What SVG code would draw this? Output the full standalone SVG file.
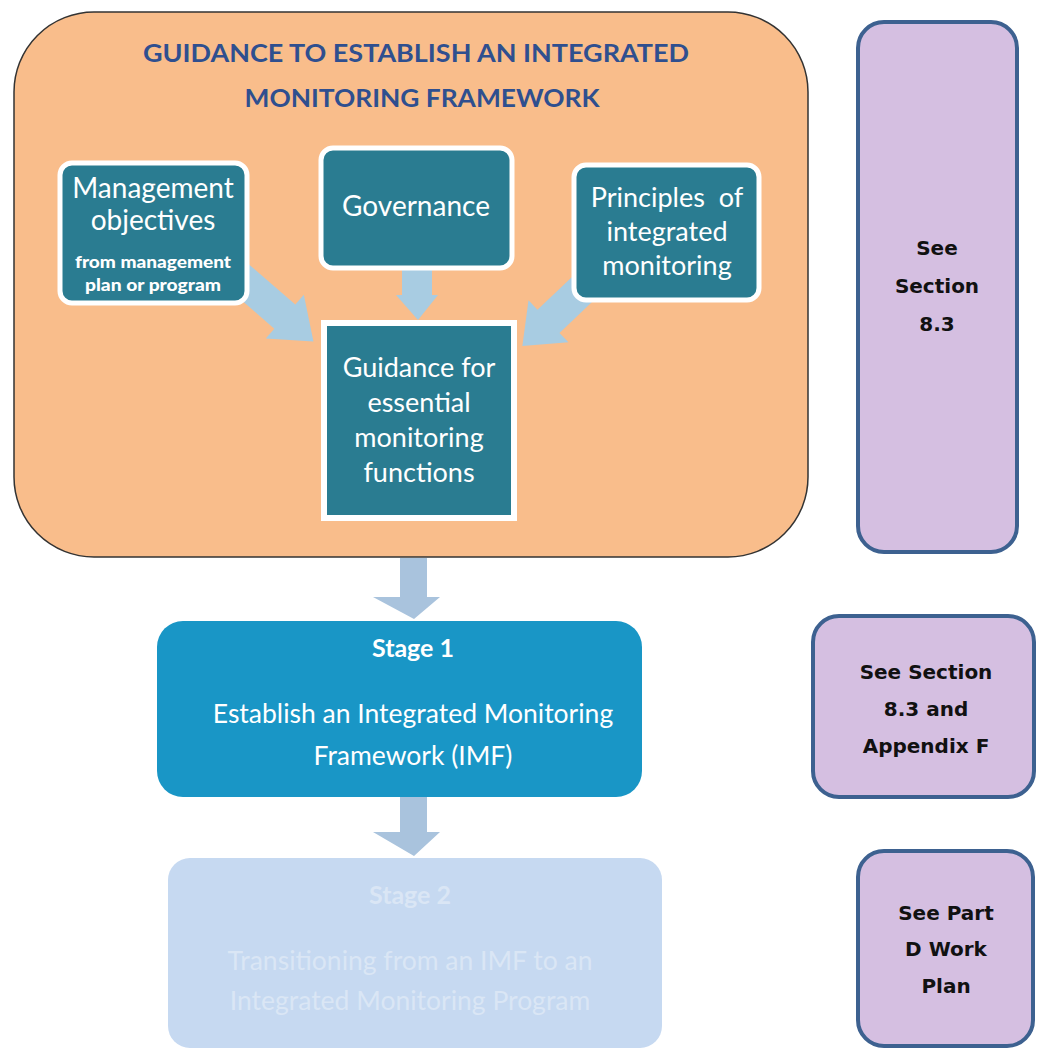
<svg xmlns="http://www.w3.org/2000/svg" width="1037" height="1050" viewBox="0 0 1037 1050">
<style>
.teal{fill:#2A7C91;stroke:#FFFFFF;stroke-width:5}
.tt{font-family:Lato,"Liberation Sans",sans-serif;fill:#FFFFFF;text-anchor:middle}
.arw{fill:#A8CCE2}
.side{fill:#D5BFE1;stroke:#3D6190;stroke-width:4}
.st{font-family:"DejaVu Sans",Verdana,sans-serif;font-weight:bold;font-size:20px;fill:#111111;text-anchor:middle}
</style>
<rect width="1037" height="1050" fill="#FFFFFF"/>
<g id="outer">
<rect x="14" y="12" width="794" height="545" rx="80" ry="80" fill="#F9BD8B" stroke="#333333" stroke-width="1.5"/>
<text x="416" y="62" font-family="Lato,'Liberation Sans',sans-serif" font-weight="bold" font-size="25" fill="#2F4F8F" text-anchor="middle" textLength="546" lengthAdjust="spacingAndGlyphs">GUIDANCE TO ESTABLISH AN INTEGRATED</text>
<text x="422" y="107" font-family="Lato,'Liberation Sans',sans-serif" font-weight="bold" font-size="25" fill="#2F4F8F" text-anchor="middle" textLength="355" lengthAdjust="spacingAndGlyphs">MONITORING FRAMEWORK</text>
</g>
<g id="connectors">
<polygon class="arw" transform="translate(238,276) rotate(41)" points="0,-16 62,-16 62,-29 100,0 62,29 62,16 0,16"/>
<polygon class="arw" transform="translate(592,280) rotate(136.5)" points="0,-16 60,-16 60,-29 96,0 60,29 60,16 0,16"/>
<polygon class="arw" points="402,265 432,265 432,295 438,295 418,320 396,295 402,295"/>
<polygon class="arw" points="400,558 427,558 427,597 440,597 414,619 373,597 400,597" style="fill:#A9C3DD"/>
<polygon class="arw" points="400,797 427,797 427,832 440,832 414,856 373,832 400,832" style="fill:#A9C3DD"/>
</g>
<g id="mgmt">
<rect class="teal" x="60" y="163" width="187" height="140" rx="12"/>
<text class="tt" x="153" y="198" font-size="28">Management</text>
<text class="tt" x="153" y="230" font-size="28">objectives</text>
<text class="tt" x="153" y="268" font-size="17" font-weight="900" textLength="156" lengthAdjust="spacingAndGlyphs">from management</text>
<text class="tt" x="153" y="291" font-size="17" font-weight="900" textLength="136" lengthAdjust="spacingAndGlyphs">plan or program</text>
</g>
<g id="governance">
<rect class="teal" x="321" y="148" width="191" height="120" rx="12"/>
<text class="tt" x="416" y="216" font-size="28">Governance</text>
</g>
<g id="principles">
<rect class="teal" x="574" y="165" width="185" height="135" rx="12"/>
<text class="tt" x="667" y="207" font-size="27" xml:space="preserve">Principles  of</text>
<text class="tt" x="667" y="241" font-size="27">integrated</text>
<text class="tt" x="667" y="275" font-size="27">monitoring</text>
</g>
<g id="guidance">
<rect class="teal" x="324" y="323" width="190" height="195" style="stroke-width:6"/>
<text class="tt" x="419" y="377" font-size="27">Guidance for</text>
<text class="tt" x="419" y="412" font-size="27">essential</text>
<text class="tt" x="419" y="447" font-size="27">monitoring</text>
<text class="tt" x="419" y="482" font-size="27">functions</text>
</g>
<g id="stage1">
<rect x="157" y="621" width="485" height="176" rx="26" fill="#1996C6"/>
<text class="tt" x="413" y="657" font-size="25" font-weight="bold">Stage 1</text>
<text class="tt" x="413" y="723" font-size="26.5">Establish an Integrated Monitoring</text>
<text class="tt" x="413" y="765" font-size="26.5">Framework (IMF)</text>
</g>
<g id="stage2">
<rect x="168" y="858" width="494" height="190" rx="22" fill="#C6D9F1"/>
<text class="tt" x="410" y="904" font-size="25" font-weight="bold" style="fill:#DAE6F5">Stage 2</text>
<text class="tt" x="410" y="970" font-size="26.5" style="fill:#DAE6F5">Transitioning from an IMF to an</text>
<text class="tt" x="410" y="1010" font-size="26.5" style="fill:#DAE6F5">Integrated Monitoring Program</text>
</g>
<g id="see1">
<rect class="side" x="858" y="22" width="159" height="530" rx="26"/>
<text class="st" x="937" y="255">See</text>
<text class="st" x="937" y="293">Section</text>
<text class="st" x="937" y="331">8.3</text>
</g>
<g id="see2">
<rect class="side" x="813" y="616" width="221" height="181" rx="26"/>
<text class="st" x="926" y="679">See Section</text>
<text class="st" x="926" y="716">8.3 and</text>
<text class="st" x="926" y="753">Appendix F</text>
</g>
<g id="see3">
<rect class="side" x="858" y="851" width="175" height="195" rx="26"/>
<text class="st" x="946" y="920">See Part</text>
<text class="st" x="946" y="956">D Work</text>
<text class="st" x="946" y="993">Plan</text>
</g>
</svg>
